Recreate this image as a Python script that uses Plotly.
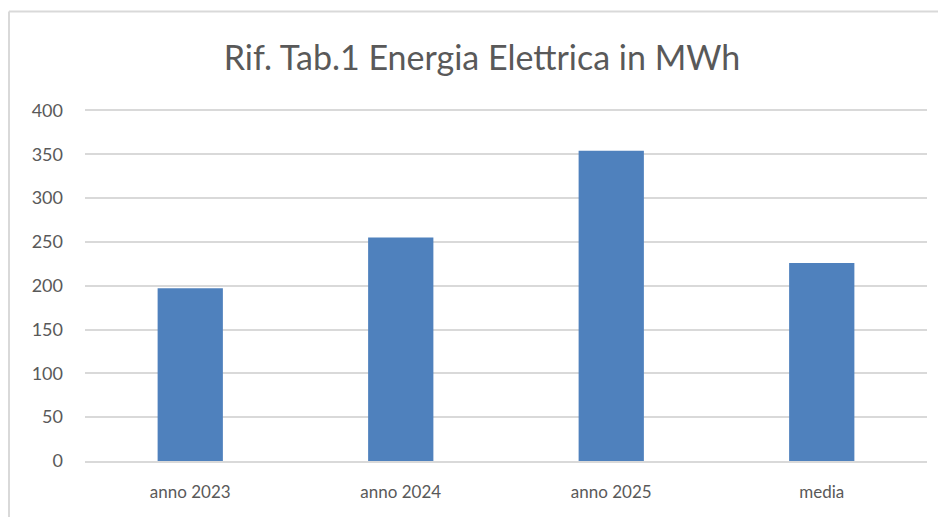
import plotly.graph_objects as go

# dati
categorie = ["anno 2023", "anno 2024", "anno 2025", "media"]
energia_mwh = [197, 255, 354, 226]
y_ticks = [0, 50, 100, 150, 200, 250, 300, 350, 400]

W, H = 946, 517
off = 8  # margine del body della pagina html
y_max = 405
px_per_unit = 351 / 400
ml, mr, mb = 85 - off, 27, 64
mt = (110 - off) - (y_max - 400) * px_per_unit
pw, ph = W - ml - mr, H - mt - mb

grigio = "#595959"
font_fam = "Lato, sans-serif"

fig = go.Figure()
fig.add_trace(go.Bar(x=categorie, y=energia_mwh, marker_color="#4F81BD",
                     marker_line=dict(color="#4F81BD", width=0)))

# bordo esterno del grafico (come in Excel)
bordo_y = (H - mb - (11 - off)) / ph
bordo_x = (8 - off + 1 - ml) / pw
fig.add_shape(type="line", xref="paper", yref="paper",
              x0=bordo_x, x1=(W + 20 - ml) / pw, y0=bordo_y, y1=bordo_y,
              line=dict(color="#D9D9D9", width=2))
fig.add_shape(type="line", xref="paper", yref="paper",
              x0=bordo_x, x1=bordo_x, y0=bordo_y, y1=-mb / ph - 0.1,
              line=dict(color="#D9D9D9", width=2))

fig.update_layout(
    width=W, height=H,
    margin=dict(l=ml, r=mr, t=mt, b=mb),
    paper_bgcolor="white", plot_bgcolor="white",
    title=dict(text="Rif. Tab.1 Energia Elettrica in MWh", x=(482 - off) / W, xanchor="center",
               y=1 - (58 - off) / H, yanchor="middle",
               font=dict(family=font_fam, size=34, color=grigio)),
    bargap=0.69,
    showlegend=False,
    font=dict(family=font_fam, color=grigio),
)
fig.update_xaxes(showgrid=False, showline=True, linecolor="#D9D9D9", linewidth=1.5,
                 ticks="", tickfont=dict(size=17, color=grigio), ticklabelstandoff=15)
fig.update_yaxes(range=[0, y_max], tickvals=y_ticks, showgrid=True, gridcolor="#D9D9D9",
                 gridwidth=1.5, zeroline=False, showline=False, ticks="",
                 tickfont=dict(size=18, color=grigio), ticklabelstandoff=21)

fig.write_html("out.html")
